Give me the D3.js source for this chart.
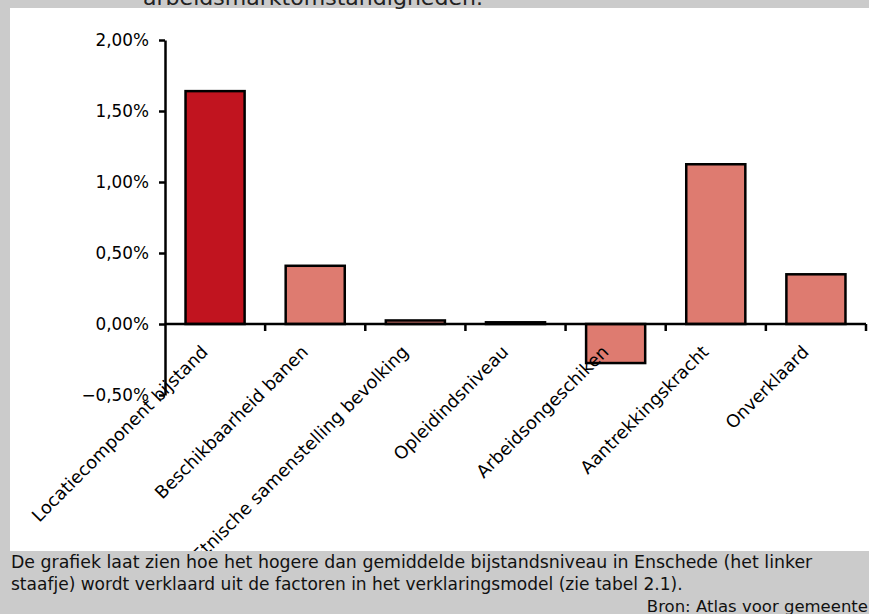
<!DOCTYPE html>
<html><head><meta charset="utf-8">
<script src="https://cdn.jsdelivr.net/npm/d3@7"></script>
<style>body{margin:0;background:#fff}svg{display:block}text{font-family:"DejaVu Sans","Open Sans",sans-serif}</style>
</head><body><svg id="c" width="869" height="614"></svg>
<script>
const categories = ["Locatiecomponent bijstand","Beschikbaarheid banen","Etnische samenstelling bevolking","Opleidindsniveau","Arbeidsongeschiken","Aantrekkingskracht","Onverklaard"];
const values = [1.64, 0.41, 0.025, 0.012, -0.275, 1.125, 0.35];
const yTicks = [-0.5, 0, 0.5, 1.0, 1.5, 2.0];
const barColors = ["#c1141f","#de7b70","#de7b70","#de7b70","#de7b70","#de7b70","#de7b70"];
const titleText = "arbeidsmarktomstandigheden.";
const captionLines = ["De grafiek laat zien hoe het hogere dan gemiddelde bijstandsniveau in Enschede (het linker","staafje) wordt verklaard uit de factoren in het verklaringsmodel (zie tabel 2.1)."];
const sourceText = "Bron: Atlas voor gemeente";

const svg = d3.select("#c");
const W = 869, H = 614;

// measure to fit the reference text widths
function fitSize(txt, target){
  const p = svg.append("text").attr("font-size",16).text(txt);
  const s = 16 * target / p.node().getComputedTextLength();
  p.remove(); return s;
}
const fs = fitSize(captionLines[0], 802);
const fs2 = Math.min(fs, fitSize(captionLines[1], 672));
const fsSrc = fs * 0.95;
const fsAxis = fs * 0.97;
const fsLab = fs * 1.02;

const x = d3.scaleBand().domain(categories).range([165, 866]).paddingInner(0.41).paddingOuter(0.205);
const y = d3.scaleLinear().domain([-0.5, 2.0]).range([395, 40]);
const fmt = v => d3.format(".2f")(v).replace(".", ",") + "%";

// frame
svg.append("rect").attr("width", W).attr("height", H).attr("fill", "#fff");
svg.append("rect").attr("x",0).attr("y",0).attr("width",W).attr("height",8).attr("fill","#cbcbcb");
svg.append("rect").attr("x",0).attr("y",0).attr("width",10).attr("height",H).attr("fill","#cbcbcb");
svg.append("text").attr("x",143).attr("y",5).attr("font-size",fs*1.27).attr("fill","#222").text(titleText);

// y axis
const yAxis = svg.append("g").attr("transform","translate(165,0)")
  .call(d3.axisLeft(y).tickValues(yTicks).tickFormat(fmt).tickSize(6).tickSizeOuter(0));
yAxis.select(".domain").attr("stroke","#000").attr("stroke-width",2.5);
yAxis.selectAll(".tick line").attr("stroke","#000").attr("stroke-width",2.5);
yAxis.selectAll(".tick text").attr("font-size",fsAxis).attr("fill","#000").attr("x",-16).attr("dy","0.35em");

// bars
svg.append("g").selectAll("rect").data(values).join("rect")
  .attr("x",(d,i)=>x(categories[i]))
  .attr("width",x.bandwidth())
  .attr("y",d=>y(Math.max(0,d)))
  .attr("height",d=>Math.abs(y(d)-y(0)))
  .attr("fill",(d,i)=>barColors[i])
  .attr("stroke","#000").attr("stroke-width",2.5);

// x axis line + ticks at category boundaries
const bounds = categories.map(c => x(c) - x.step()*x.paddingInner()/2 + x.step());
svg.append("line").attr("x1",165).attr("x2",866).attr("y1",y(0)).attr("y2",y(0)).attr("stroke","#000").attr("stroke-width",2.5);
svg.append("g").selectAll("line").data(bounds).join("line")
  .attr("x1",d=>d).attr("x2",d=>d).attr("y1",y(0)).attr("y2",y(0)+7)
  .attr("stroke","#000").attr("stroke-width",2.5);

// x labels
svg.append("g").selectAll("text").data(categories).join("text")
  .attr("transform",d=>`translate(${x(d)+x.bandwidth()/2-6},${y(0)+29}) rotate(-45)`)
  .attr("text-anchor","end").attr("font-size",fsLab).attr("fill","#000").text(d=>d);

// caption band
svg.append("rect").attr("x",0).attr("y",551).attr("width",W).attr("height",H-551).attr("fill","#cbcbcb");
svg.append("text").attr("x",11).attr("y",568).attr("font-size",fs).attr("fill","#111").text(captionLines[0]);
svg.append("text").attr("x",11).attr("y",590).attr("font-size",fs2).attr("fill","#111").text(captionLines[1]);
svg.append("text").attr("x",868).attr("y",612).attr("text-anchor","end").attr("font-size",fsSrc).attr("fill","#111").text(sourceText);
</script></body></html>
